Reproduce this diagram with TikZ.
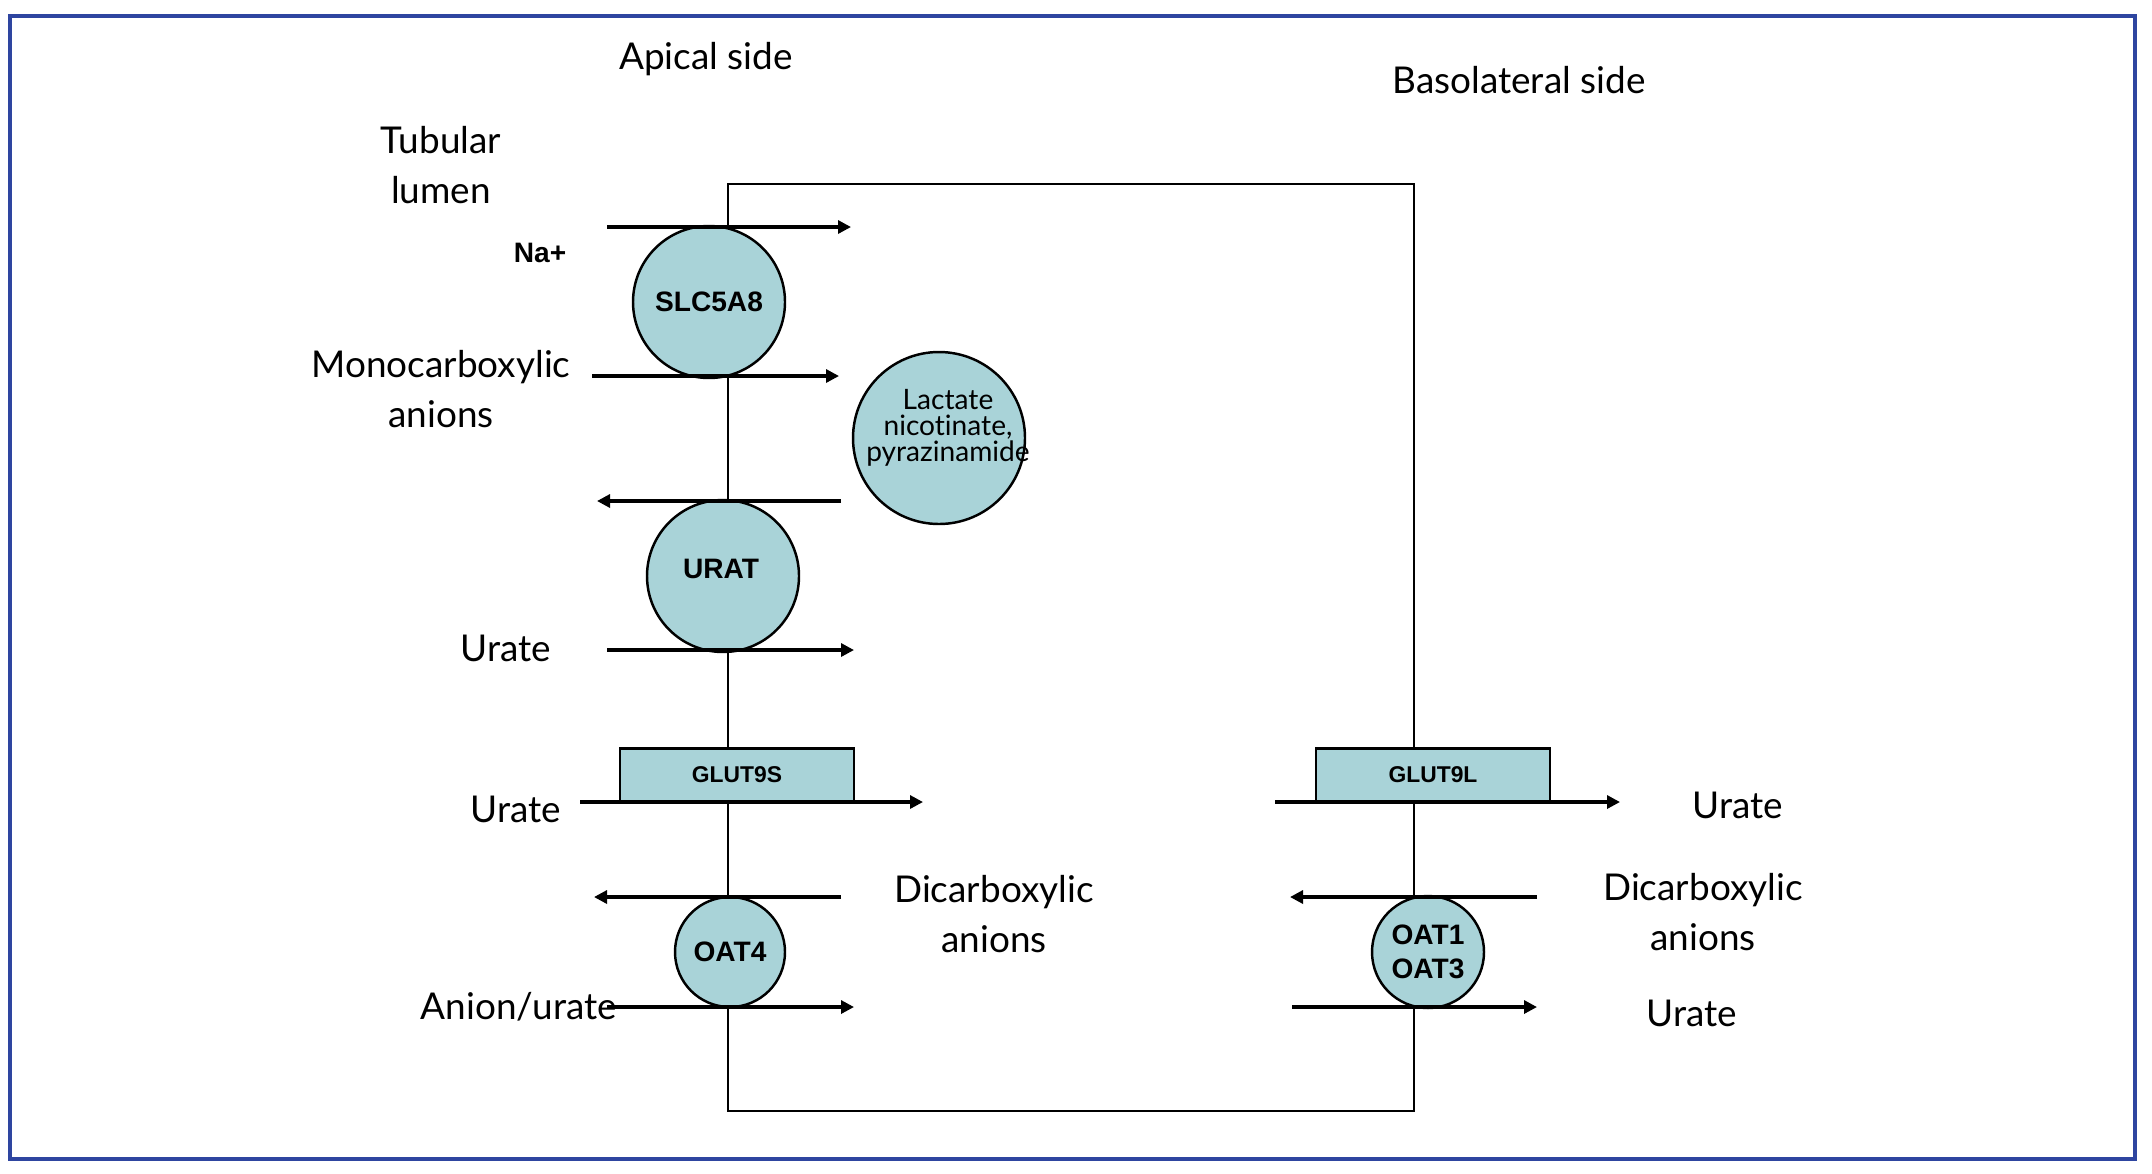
\documentclass[tikz,border=0pt]{standalone}
\usepackage{fontspec}
\setmainfont{Lato}[Ligatures=NoCommon]
\newfontfamily\arialfont{Liberation Sans}
\usetikzlibrary{arrows.meta}

\definecolor{carrier}{HTML}{A9D3D8}
\definecolor{frameblue}{HTML}{2E45A0}

\begin{document}
\begin{tikzpicture}[x=0.1mm, y=-0.1mm, line width=0.7pt,
    label/.style = {align=center, font=\fontsize{10.5}{14}\selectfont},
    prot/.style = {draw, circle, fill=carrier, inner sep=0pt, font=\arialfont\bfseries\fontsize{8}{9.5}\selectfont, align=center},
    chan/.style = {draw, rectangle, fill=carrier, inner sep=0pt, minimum width=23.4mm, minimum height=5.3mm, font=\arialfont\bfseries\fontsize{6.5}{7}\selectfont},
    flow/.style = {line width=0.9pt, -{Triangle[length=1.3mm, width=1.3mm]}}]
    \useasboundingbox (0,0) rectangle (2152,1173);
    \draw[frameblue, line width=1.1pt] (10,16) rectangle (2135,1159);

    % the cell
    \draw (728,1111) -- (728,184) -- (1414,184) -- (1414,1111) -- cycle;

    % sides
    \node[label] (apical) at (706,59) {Apical side};
    \node[label] (baso) at (1519,80) {Basolateral side};
    \node[label] (lumen) at (441,165) {Tubular\\lumen};

    % carriers
    \node[prot, minimum size=15.2mm] (slc) at (709,302) {SLC5A8};
    \node[prot, minimum size=15.2mm] (urat) at (723,576) {};
    \node[font=\arialfont\bfseries\fontsize{8}{9.5}\selectfont] (urattext) at (721,569) {URAT};
    \node[prot, minimum size=17.2mm] (lact) at (939,438) {};
    \node[align=center, font=\fontsize{8}{7.4}\selectfont] (lacttext) at (948,428) {Lactate\\nicotinate,\\pyrazinamide};
    \node[prot, minimum size=11mm] (oat4) at (730,952) {OAT4};
    \node[prot, minimum size=11.2mm] (oat13) at (1428,952) {OAT1\\OAT3};
    \node[chan] (glut9s) at (737,775) {GLUT9S};
    \node[chan] (glut9l) at (1433,775) {GLUT9L};

    % labels
    \node[prot, draw=none, fill=none] (na) at (540,253) {Na+};
    \node[label] (mono) at (441,389) {Monocarboxylic\\anions};
    \node[label] (urate1) at (506,648) {Urate};
    \node[label] (urate2) at (516,809) {Urate};
    \node[label] (anion) at (519,1007) {Anion/urate};
    \node[label] (dicarb1) at (994,914) {Dicarboxylic\\anions};
    \node[label] (urate3) at (1738,805) {Urate};
    \node[label] (dicarb2) at (1703,912) {Dicarboxylic\\anions};
    \node[label] (urate4) at (1692,1013) {Urate};

    % transport arrows
    \coordinate (na0) at (607,227);    \coordinate (na1) at (851,227);
    \coordinate (mono0) at (592,376);  \coordinate (mono1) at (839,376);
    \coordinate (lac0) at (841,501);   \coordinate (lac1) at (597,501);
    \coordinate (ur0) at (607,650);    \coordinate (ur1) at (854,650);
    \coordinate (gs0) at (580,802);    \coordinate (gs1) at (923,802);
    \coordinate (da0) at (841,897);    \coordinate (da1) at (594,897);
    \coordinate (au0) at (607,1007);   \coordinate (au1) at (854,1007);
    \coordinate (gl0) at (1275,802);   \coordinate (gl1) at (1620,802);
    \coordinate (db0) at (1537,897);   \coordinate (db1) at (1290,897);
    \coordinate (ub0) at (1292,1007);  \coordinate (ub1) at (1537,1007);
    \draw[flow] (na0) -- (na1);
    \draw[flow] (mono0) -- (mono1);
    \draw[flow] (lac0) -- (lac1);
    \draw[flow] (ur0) -- (ur1);
    \draw[flow] (gs0) -- (gs1);
    \draw[flow] (da0) -- (da1);
    \draw[flow] (au0) -- (au1);
    \draw[flow] (gl0) -- (gl1);
    \draw[flow] (db0) -- (db1);
    \draw[flow] (ub0) -- (ub1);
\end{tikzpicture}
\end{document}
